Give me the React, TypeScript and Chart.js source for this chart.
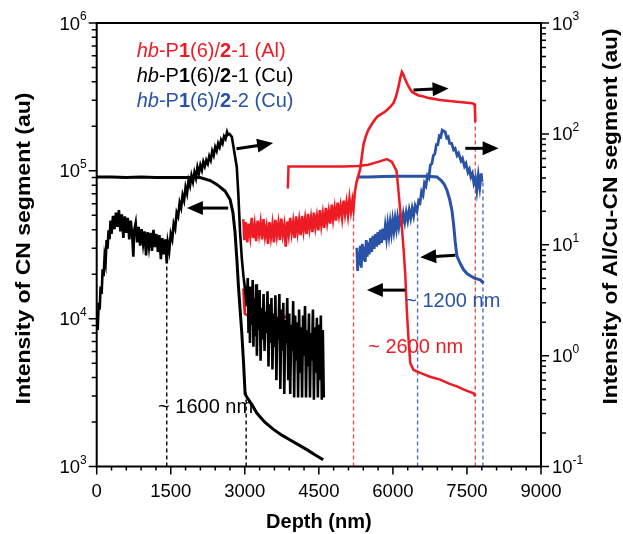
import { useEffect, useRef } from 'react';
import { Chart, registerables } from 'chart.js';
Chart.register(...registerables);

type P = [number, number | null];

const RED = 'rgb(237,28,36)';
const BLUE = 'rgb(42,82,166)';
const FONT = '"Liberation Sans", Arial, sans-serif';

const xTickValues = [0, 1500, 3000, 4500, 6000, 7500, 9000];
const xMinorStep = 300;
const leftExponents = [3, 4, 5, 6];
const rightExponents = [-1, 0, 1, 2, 3];

// hb-P1(6)/2-1 (Cu): CN segment, left axis
const blackCn: P[] = [
  [0, 9.1e4], [300, 9.1e4], [600, 9.0e4], [900, 9.1e4], [1200, 9.0e4], [1500, 9.0e4], [1800, 9.0e4],
  [2094, 9.0e4], [2300, 8.6e4], [2432, 8.1e4], [2600, 7.3e4], [2702, 6.4e4], [2760, 5.2e4], [2803, 3.8e4],
  [2840, 2.5e4], [2871, 1.66e4], [2905, 1.15e4], [2939, 8.0e3], [2975, 5.0e3], [3006, 3.1e3], [3040, 2.95e3],
  [3150, 2.6e3], [3243, 2.3e3], [3400, 2.0e3], [3574, 1.79e3], [3750, 1.63e3], [3919, 1.51e3], [4090, 1.4e3],
  [4257, 1.3e3], [4420, 1.2e3], [4588, 1.11e3],
];

// hb-P1(6)/2-1 (Cu): Cu-CN segment, right axis
const blackCu: P[] = [
  [0, 2.3], [20, 1.7], [40, 3.0], [60, 2.6], [80, 4.2], [100, 3.6], [120, 6.0], [140, 5.2], [160, 7.8], [180, 6.9],
  [200, 11], [220, 9.2], [240, 13.5], [260, 11.2], [280, 16.5], [300, 12.5], [330, 18.2], [360, 13.8], [390, 19.5],
  [420, 14.5], [450, 20.5], [480, 13.2], [510, 18.8], [540, 11.5], [570, 18], [600, 12.8], [630, 17.5], [660, 11.2],
  [690, 16.5], [720, 12], [742, 7.8], [760, 13.5], [790, 15.8], [820, 10.5], [850, 14.5], [880, 9.8], [910, 13.8],
  [940, 10.2], [970, 13.2], [1000, 8.0], [1030, 13], [1060, 9.6], [1090, 12.8], [1120, 8.8], [1150, 13.6],
  [1180, 9.5], [1210, 12.5], [1240, 8.6], [1270, 12.2], [1300, 7.4], [1330, 11.5], [1360, 8.2], [1390, 11.2],
  [1419, 6.8], [1440, 10.5], [1470, 8.8], [1500, 12.5], [1530, 11.2], [1560, 15.5], [1590, 14], [1620, 19.5],
  [1650, 18], [1680, 24], [1710, 21.5], [1740, 28], [1770, 25], [1800, 33], [1830, 29], [1860, 38], [1890, 34],
  [1920, 42], [1950, 37], [1980, 45], [2010, 40], [2040, 50], [2070, 44], [2100, 52], [2130, 47], [2160, 56],
  [2190, 51], [2220, 58], [2250, 54], [2280, 63], [2310, 58], [2340, 70], [2370, 64], [2400, 76], [2430, 70],
  [2460, 82], [2490, 76], [2520, 88], [2550, 82], [2580, 95], [2610, 90], [2640, 104], [2660, 98], [2690, 100],
  [2737, 94], [2780, 72], [2838, 50], [2870, 28], [2905, 12.7], [2940, 7.5], [2973, 5.2], [3010, 3.8], [3040, 2.8],
  [3060, 5.0], [3075, 1.6], [3090, 4.2], [3105, 1.3], [3120, 3.6], [3140, 1.9], [3160, 4.8], [3175, 1.2],
  [3190, 3.3], [3210, 1.5], [3230, 4.4], [3245, 1.0], [3260, 3.1], [3280, 1.7], [3300, 3.9], [3320, 0.9],
  [3340, 2.7], [3360, 1.4], [3380, 3.6], [3400, 1.1], [3420, 2.5], [3440, 1.6], [3460, 3.8], [3480, 0.8],
  [3500, 2.9], [3520, 1.3], [3540, 3.3], [3560, 0.75], [3580, 2.4], [3600, 1.2], [3620, 3.5], [3640, 0.6],
  [3660, 2.2], [3680, 1.4], [3700, 3.6], [3720, 0.5], [3740, 2.6], [3760, 1.1], [3780, 3.0], [3800, 0.45],
  [3820, 2.1], [3840, 1.3], [3860, 3.3], [3880, 0.6], [3900, 2.4], [3920, 0.45], [3940, 1.9], [3960, 1.1],
  [3980, 3.1], [4000, 0.42], [4020, 2.3], [4040, 0.9], [4060, 2.0], [4080, 0.42], [4100, 2.6], [4120, 0.7],
  [4140, 1.8], [4160, 0.42], [4180, 2.3], [4200, 1.0], [4220, 2.8], [4240, 0.42], [4260, 1.7], [4280, 0.8],
  [4300, 2.4], [4320, 0.42], [4340, 1.6], [4360, 0.9], [4380, 2.6], [4400, 0.4], [4420, 1.8], [4440, 0.7],
  [4460, 2.2], [4480, 0.42], [4500, 1.9], [4520, 0.6], [4540, 2.3], [4560, 0.4], [4580, 1.7], [4600, 0.42],
];

// hb-P1(6)/2-1 (Al): CN segment, left axis
const redCn: P[] = [
  [2970, 1.6e4], [2985, 1.25e4], [3000, 1.08e4], [3100, 1.03e4], [3300, 1.02e4], [3500, 1.02e4], [3700, 1.02e4],
  [3850, 1.03e4], [3860, null], [3872, 7.6e4], [3885, 1.07e5], [4200, 1.07e5], [4600, 1.07e5], [5000, 1.07e5],
  [5300, 1.08e5], [5500, 1.1e5], [5700, 1.15e5], [5879, 1.2e5], [5980, 1.15e5], [6074, 1.0e5], [6110, 7.5e4],
  [6148, 5.4e4], [6180, 4.2e4], [6215, 3.0e4], [6250, 2.0e4], [6284, 1.1e4], [6320, 7.0e3], [6351, 5.0e3],
  [6419, 4.5e3], [6554, 4.3e3], [6750, 4.05e3], [6959, 3.87e3], [7150, 3.62e3], [7297, 3.48e3], [7450, 3.3e3],
  [7634, 3.13e3], [7669, 2.98e3],
];

// hb-P1(6)/2-1 (Al): Al-CN segment, right axis
const redAl: P[] = [
  [2970, 17], [2990, 11], [3020, 16], [3050, 10.5], [3080, 15.5], [3110, 12], [3140, 17.5], [3170, 11.5],
  [3200, 15], [3230, 10.8], [3260, 16.5], [3290, 12.5], [3320, 15.8], [3350, 11.2], [3380, 17], [3410, 12],
  [3440, 14.5], [3470, 10.2], [3500, 16], [3530, 11.8], [3560, 15.2], [3590, 10.5], [3620, 16.8], [3650, 12.2],
  [3680, 15.5], [3710, 11], [3740, 17.2], [3770, 12.4], [3800, 15], [3830, 9.6], [3860, 16.2], [3890, 12.5],
  [3920, 17.5], [3950, 12.8], [3980, 16], [4010, 11.5], [4040, 18], [4070, 13], [4100, 16.5], [4130, 12.2],
  [4160, 18.2], [4190, 13.4], [4220, 17], [4250, 12.5], [4280, 19], [4310, 14], [4340, 17.5], [4370, 13],
  [4400, 19.5], [4430, 14.5], [4460, 18], [4490, 13.5], [4520, 20.5], [4550, 15], [4580, 19], [4610, 14.2],
  [4640, 21.5], [4670, 16], [4700, 20], [4730, 15.5], [4760, 23], [4790, 17], [4820, 21.5], [4850, 16.5],
  [4880, 24], [4910, 18.5], [4940, 22.5], [4970, 17.5], [5000, 25], [5030, 19], [5060, 24], [5090, 18.5],
  [5120, 26], [5150, 20], [5180, 25], [5202, 21], [5230, 30], [5260, 36], [5300, 42], [5337, 48], [5370, 62],
  [5404, 80], [5450, 95], [5500, 108], [5540, 116], [5600, 128], [5676, 142], [5750, 150], [5820, 156],
  [5879, 164], [5950, 176], [6012, 190], [6060, 215], [6113, 265], [6150, 320], [6183, 362], [6210, 345],
  [6240, 318], [6284, 286], [6330, 262], [6385, 240], [6450, 230], [6520, 222], [6620, 217], [6700, 212],
  [6800, 208], [6900, 204], [6959, 202], [7050, 200], [7150, 198], [7297, 195], [7400, 193], [7500, 191],
  [7600, 189], [7650, 186], [7662, 170], [7669, 127],
];

// hb-P1(6)/2-2 (Cu): CN segment, left axis
const blueCn: P[] = [
  [5270, 9.1e4], [5500, 9.1e4], [5800, 9.15e4], [6100, 9.2e4], [6400, 9.2e4], [6700, 9.2e4], [6892, 9.1e4],
  [6980, 8.6e4], [7040, 8.1e4], [7095, 7.4e4], [7150, 6.4e4], [7196, 5.4e4], [7228, 4.4e4], [7263, 3.3e4],
  [7297, 2.65e4], [7364, 2.36e4], [7430, 2.15e4], [7500, 2.02e4], [7567, 1.95e4], [7650, 1.88e4],
  [7770, 1.83e4], [7836, 1.74e4],
];

// hb-P1(6)/2-2 (Cu): Cu-CN segment, right axis
const blueCu: P[] = [
  [5270, 9.4], [5285, 5.8], [5300, 8.6], [5320, 6.5], [5340, 9.8], [5360, 6.2], [5380, 10.2], [5400, 7.2],
  [5420, 9.6], [5440, 7.0], [5460, 11], [5480, 7.8], [5500, 10.5], [5520, 8.2], [5545, 11.5], [5570, 8.6],
  [5595, 12], [5620, 9.2], [5645, 12.5], [5670, 9.6], [5695, 13], [5720, 10], [5745, 13.6], [5770, 10.4],
  [5795, 14], [5820, 11], [5845, 14.5], [5870, 11.6], [5895, 15.2], [5920, 12.2], [5945, 15.8], [5970, 12.8],
  [5995, 16.5], [6020, 13.4], [6045, 17], [6070, 14], [6095, 17.6], [6120, 14.6], [6150, 18.2], [6180, 15.2],
  [6210, 19], [6240, 16], [6270, 19.6], [6300, 16.6], [6330, 20.5], [6360, 17.4], [6390, 21.2], [6420, 18.2],
  [6450, 22.4], [6487, 20], [6520, 25], [6550, 24], [6580, 30], [6610, 28], [6640, 36], [6670, 34], [6700, 42],
  [6730, 40], [6757, 52], [6790, 54], [6820, 64], [6850, 66], [6880, 80], [6910, 80], [6940, 96], [6970, 94],
  [7000, 108], [7027, 106], [7060, 104], [7090, 92], [7120, 94], [7150, 82], [7190, 82], [7229, 72], [7260, 74],
  [7300, 64], [7330, 67], [7380, 57], [7410, 60], [7450, 51], [7480, 54], [7520, 45], [7550, 48], [7580, 41],
  [7610, 44], [7640, 36], [7670, 40], [7700, 31], [7730, 42], [7760, 33], [7790, 44], [7805, 37],
];

// dashed guide lines: depth, top value (right axis), colour
const guideDepths = [1419, 3027, 5202, 6500, 7669, 7824];
const guideTops = [6.8, 0.47, 21, 18, 127, 38];
const guideColors = ['#000', '#000', 'rgb(240,80,80)', 'rgb(80,110,200)', 'rgb(240,80,80)', 'rgb(80,110,200)'];

// arrows in (depth, left-axis value): from -> to
const arrowFrom: [number, number][] = [[2662, 5.6e4], [2832, 1.41e5], [6418, 3.52e5], [7466, 1.42e5], [7263, 2.69e4], [6249, 1.56e4]];
const arrowTo: [number, number][] = [[1827, 5.6e4], [3574, 1.54e5], [7128, 3.61e5], [8141, 1.42e5], [6553, 2.6e4], [5473, 1.56e4]];

// annotations (left edge depth, left-axis value)
const noteTexts = ['~ 1600 nm', '~ 2600 nm', '~ 1200 nm'];
const notePos: [number, number][] = [[1243, 2.5e3], [5500, 6.4e3], [6250, 1.31e4]];
const noteColors = ['#000', RED, BLUE];

const toXY = (a: P[]) => a.map(([x, y]) => ({ x, y }));

function drawArrow(ctx: CanvasRenderingContext2D, x1: number, y1: number, x2: number, y2: number) {
  const ang = Math.atan2(y2 - y1, x2 - x1);
  const hl = 16, hw = 7;
  const bx = x2 - hl * Math.cos(ang), by = y2 - hl * Math.sin(ang);
  ctx.strokeStyle = '#000';
  ctx.lineWidth = 3;
  ctx.beginPath();
  ctx.moveTo(x1, y1);
  ctx.lineTo(bx + Math.cos(ang), by + Math.sin(ang));
  ctx.stroke();
  ctx.fillStyle = '#000';
  ctx.beginPath();
  ctx.moveTo(x2, y2);
  ctx.lineTo(bx + hw * Math.sin(ang), by - hw * Math.cos(ang));
  ctx.lineTo(bx - hw * Math.sin(ang), by + hw * Math.cos(ang));
  ctx.closePath();
  ctx.fill();
}

function vText(ctx: CanvasRenderingContext2D, text: string, cx: number, cy: number, sx: number) {
  ctx.save();
  ctx.translate(cx, cy);
  ctx.rotate(-Math.PI / 2);
  ctx.scale(sx, 1);
  ctx.textAlign = 'center';
  ctx.textBaseline = 'middle';
  ctx.fillText(text, 0, 0);
  ctx.restore();
}

const overlay = {
  id: 'overlay',
  afterDatasetsDraw(chart: any) {
    const { ctx, scales } = chart;
    const x = scales.x, yl = scales.yL;
    ctx.save();
    for (let i = 0; i < arrowFrom.length; i++) {
      drawArrow(ctx,
        x.getPixelForValue(arrowFrom[i][0]), yl.getPixelForValue(arrowFrom[i][1]),
        x.getPixelForValue(arrowTo[i][0]), yl.getPixelForValue(arrowTo[i][1]));
    }
    ctx.font = `20px ${FONT}`;
    ctx.textAlign = 'left';
    ctx.textBaseline = 'middle';
    for (let i = 0; i < noteTexts.length; i++) {
      ctx.fillStyle = noteColors[i];
      ctx.fillText(noteTexts[i], x.getPixelForValue(notePos[i][0]), yl.getPixelForValue(notePos[i][1]));
    }
    ctx.restore();
  },
  afterDraw(chart: any) {
    const { ctx, chartArea: a, scales } = chart;
    const x = scales.x, yl = scales.yL, yr = scales.yR;
    ctx.save();
    ctx.strokeStyle = '#000';
    ctx.lineWidth = 2;
    ctx.strokeRect(a.left, a.top, a.right - a.left, a.bottom - a.top);

    ctx.lineWidth = 1.5;
    ctx.beginPath();
    const xMin = xTickValues[0], xMax = xTickValues[xTickValues.length - 1];
    for (let v = xMin; v <= xMax; v += xMinorStep) {
      const px = x.getPixelForValue(v);
      const major = xTickValues.includes(v);
      ctx.moveTo(px, a.bottom);
      ctx.lineTo(px, a.bottom + (major ? 8 : 4));
    }
    const logTicks = (scale: any, exps: number[], side: number, edge: number) => {
      for (let k = 0; k < exps.length; k++) {
        const base = Math.pow(10, exps[k]);
        for (let m = 1; m <= 9; m++) {
          if (k === exps.length - 1 && m > 1) break;
          const py = scale.getPixelForValue(base * m);
          ctx.moveTo(edge, py);
          ctx.lineTo(edge + side * (m === 1 ? 8 : 5), py);
        }
      }
    };
    logTicks(yl, leftExponents, -1, a.left);
    logTicks(yr, rightExponents, 1, a.right);
    ctx.stroke();

    ctx.fillStyle = '#000';
    ctx.font = `18.5px ${FONT}`;
    ctx.textAlign = 'center';
    ctx.textBaseline = 'alphabetic';
    for (const v of xTickValues) ctx.fillText(String(v), x.getPixelForValue(v), a.bottom + 30.5);

    const baseFont = `18.5px ${FONT}`, supFont = `12px ${FONT}`;
    for (const e of leftExponents) {
      const py = yl.getPixelForValue(Math.pow(10, e));
      ctx.font = supFont;
      const ws = ctx.measureText(String(e)).width;
      ctx.font = baseFont;
      const wb = ctx.measureText('10').width;
      const right = a.left - 10;
      ctx.textAlign = 'left';
      ctx.fillText('10', right - ws - wb, py + 6.5);
      ctx.font = supFont;
      ctx.fillText(String(e), right - ws, py - 3);
    }
    for (const e of rightExponents) {
      const py = yr.getPixelForValue(Math.pow(10, e));
      const left = a.right + 11;
      ctx.font = baseFont;
      ctx.textAlign = 'left';
      const wb = ctx.measureText('10').width;
      ctx.fillText('10', left, py + 6.5);
      ctx.font = supFont;
      ctx.fillText(String(e), left + wb, py - 3);
    }

    ctx.font = `bold 20px ${FONT}`;
    ctx.textAlign = 'center';
    ctx.fillText('Depth (nm)', (a.left + a.right) / 2, a.bottom + 61.5);
    vText(ctx, 'Intensity of CN segment (au)', a.left - 72.5, 248.5, 1.15);
    vText(ctx, 'Intensity of Al/Cu-CN segment (au)', a.right + 70, 216.5, 1.14);

    const legendLines: { color: string; parts: [string, string][] }[] = [
      { color: RED, parts: [['italic', 'hb'], ['', '-P'], ['bold', '1'], ['', '(6)/'], ['bold', '2'], ['', '-1 (Al)']] },
      { color: '#000', parts: [['italic', 'hb'], ['', '-P'], ['bold', '1'], ['', '(6)/'], ['bold', '2'], ['', '-1 (Cu)']] },
      { color: BLUE, parts: [['italic', 'hb'], ['', '-P'], ['bold', '1'], ['', '(6)/'], ['bold', '2'], ['', '-2 (Cu)']] },
    ];
    ctx.textAlign = 'left';
    ctx.textBaseline = 'alphabetic';
    legendLines.forEach((ln, i) => {
      let cx = a.left + 40;
      const by = a.top + 33.5 + i * 25;
      ctx.fillStyle = ln.color;
      for (const [st, t] of ln.parts) {
        ctx.font = `${st} 20px ${FONT}`.trim();
        ctx.fillText(t, cx, by);
        cx += ctx.measureText(t).width;
      }
    });
    ctx.restore();
  },
};

export default function App() {
  const ref = useRef<HTMLCanvasElement>(null);
  useEffect(() => {
    if (!ref.current) return;
    const line = (data: P[], axis: string, color: string, w: number) => ({
      data: toXY(data), yAxisID: axis, borderColor: color, backgroundColor: color,
      borderWidth: w, pointRadius: 0, tension: 0, fill: false, spanGaps: false,
    });
    const guides = guideDepths.map((d, i) => ({
      data: [{ x: d, y: 0.1 }, { x: d, y: guideTops[i] }], yAxisID: 'yR',
      borderColor: guideColors[i], borderWidth: 1.4, borderDash: [4, 3], pointRadius: 0, fill: false,
    }));
    const chart = new Chart(ref.current, {
      type: 'line',
      data: {
        datasets: [
          line(blackCn, 'yL', '#000', 3),
          line(blackCu, 'yR', '#000', 2.6),
          line(redCn, 'yL', RED, 2.5),
          line(redAl, 'yR', RED, 2.6),
          line(blueCn, 'yL', BLUE, 3),
          line(blueCu, 'yR', BLUE, 2.8),
          ...guides,
        ] as any,
      },
      options: {
        animation: false,
        responsive: false,
        devicePixelRatio: 1,
        events: [],
        layout: { padding: { top: 23, left: 0, right: 0, bottom: 0 } },
        plugins: { legend: { display: false }, tooltip: { enabled: false } },
        scales: {
          x: {
            type: 'linear', min: 0, max: 9000,
            grid: { display: false }, border: { display: false }, ticks: { display: false },
            afterFit: (s: any) => { s.height = 67.5; },
          },
          yL: {
            type: 'logarithmic', position: 'left', min: 1e3, max: 1e6,
            grid: { display: false }, border: { display: false }, ticks: { display: false },
            afterFit: (s: any) => { s.width = 96.7; },
          },
          yR: {
            type: 'logarithmic', position: 'right', min: 0.1, max: 1000,
            grid: { display: false }, border: { display: false }, ticks: { display: false },
            afterFit: (s: any) => { s.width = 82; },
          },
        },
      } as any,
      plugins: [overlay],
    });
    return () => chart.destroy();
  }, []);
  return (
    <div style={{ position: 'fixed', left: 0, top: 0, width: 623, height: 534, background: '#fff' }}>
      <canvas ref={ref} width={623} height={534} style={{ display: 'block' }} />
    </div>
  );
}
